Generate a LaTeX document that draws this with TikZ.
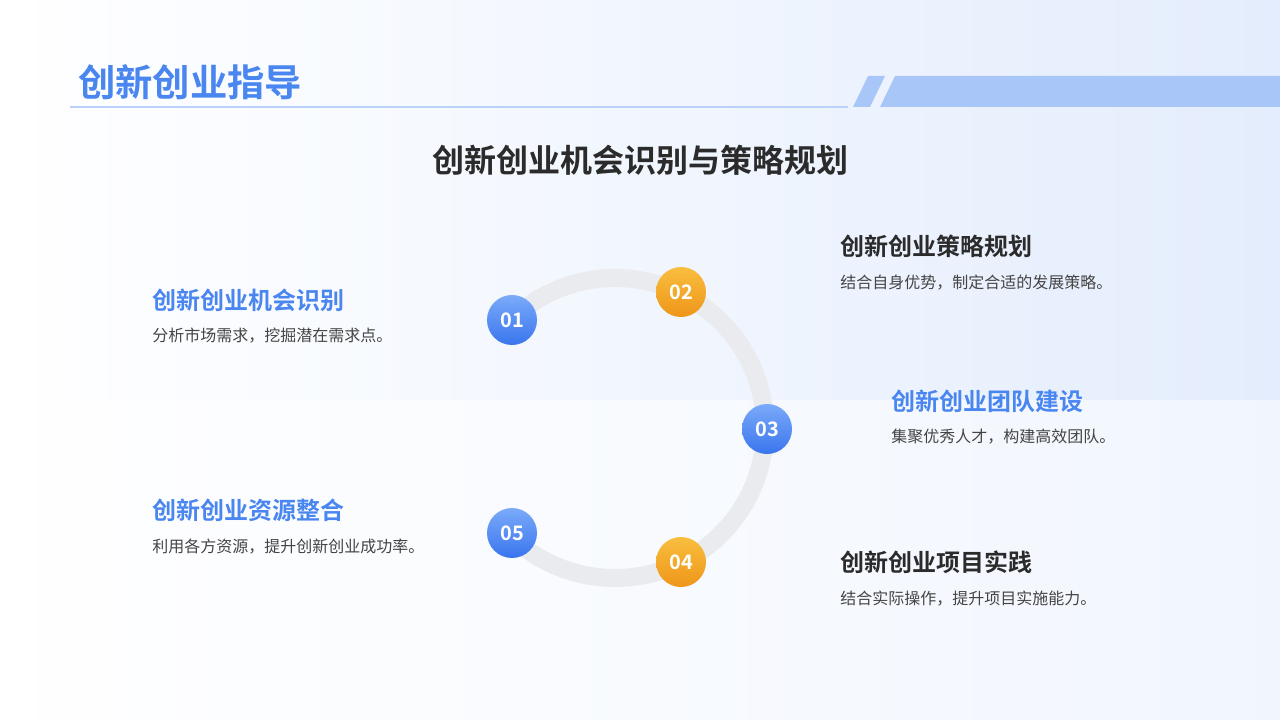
\documentclass[tikz,border=0pt]{standalone}
\usepackage{fontspec}
\usetikzlibrary{calc}
\setmainfont{Noto Sans CJK SC}[BoldFont={Noto Sans CJK SC Bold}]
\definecolor{tblue}{HTML}{4A86F0}
\definecolor{dark}{HTML}{2B2B2B}
\definecolor{desc}{HTML}{444444}
\definecolor{para}{HTML}{A9C6F8}
\definecolor{ring}{HTML}{E9EBEF}
\definecolor{bg}{HTML}{E4EDFD}
\definecolor{bA}{HTML}{7AAAF9}
\definecolor{bB}{HTML}{3A75EE}
\definecolor{oA}{HTML}{F9BE3E}
\definecolor{oB}{HTML}{EE961A}
\tikzset{
 num/.style={circle,minimum size=37.5pt,inner sep=0,text=white,font=\bfseries\fontsize{15}{15}\selectfont},
 bnum/.style={num,top color=bA,bottom color=bB},
 onum/.style={num,top color=oA,bottom color=oB},
 bhead/.style={anchor=west,inner sep=0,text=tblue,font=\bfseries\fontsize{18}{20}\selectfont},
 dhead/.style={anchor=west,inner sep=0,text=dark,font=\bfseries\fontsize{18}{20}\selectfont},
 dtext/.style={anchor=west,inner sep=0,text=desc,font=\fontsize{12}{14}\selectfont},
}
\begin{document}
\begin{tikzpicture}[x=0.75pt,y=-0.75pt]
\useasboundingbox (0,0) rectangle (1280,720);
\shade[left color=white,right color=bg] (0,0) rectangle (1280,720);
\shade[top color=white,bottom color=white,opacity=0.5,middle color=white] (0,400) rectangle (1280,720);
\node[anchor=west,inner sep=0,text=tblue,font=\bfseries\fontsize{28}{30}\selectfont] (t) at (78,82) {创新创业指导};
\draw[para!80,line width=0.8] (70,107) -- (848,107);
\fill[para] (868,76) -- (885,76) -- (870,107) -- (853,107) -- cycle;
\fill[para] (895,76) -- (1280,76) -- (1280,107) -- (880,107) -- cycle;
\node[text=dark,font=\bfseries\fontsize{24}{26}\selectfont] (st) at (640,160) {创新创业机会识别与策略规划};
\coordinate (c) at (615,428);
\draw[ring,line width=13.5] ($(c)+(133:150)$) arc[start angle=133,end angle=-134,radius=150];
\node[bnum] (n1) at (512,320) {01};
\node[onum] (n2) at (681,292) {02};
\node[bnum] (n3) at (767,429) {03};
\node[onum] (n4) at (681,562) {04};
\node[bnum] (n5) at (512,533) {05};
\node[bhead] (h1) at (152,300) {创新创业机会识别};
\node[dtext] (d1) at (152,336) {分析市场需求，挖掘潜在需求点。};
\node[dhead] (h2) at (840,246) {创新创业策略规划};
\node[dtext] (d2) at (840,283) {结合自身优势，制定合适的发展策略。};
\node[bhead] (h3) at (891,401) {创新创业团队建设};
\node[dtext] (d3) at (891,437) {集聚优秀人才，构建高效团队。};
\node[dhead] (h4) at (840,562) {创新创业项目实践};
\node[dtext] (d4) at (840,599) {结合实际操作，提升项目实施能力。};
\node[bhead] (h5) at (152,510) {创新创业资源整合};
\node[dtext] (d5) at (152,547) {利用各方资源，提升创新创业成功率。};
\end{tikzpicture}
\end{document}
